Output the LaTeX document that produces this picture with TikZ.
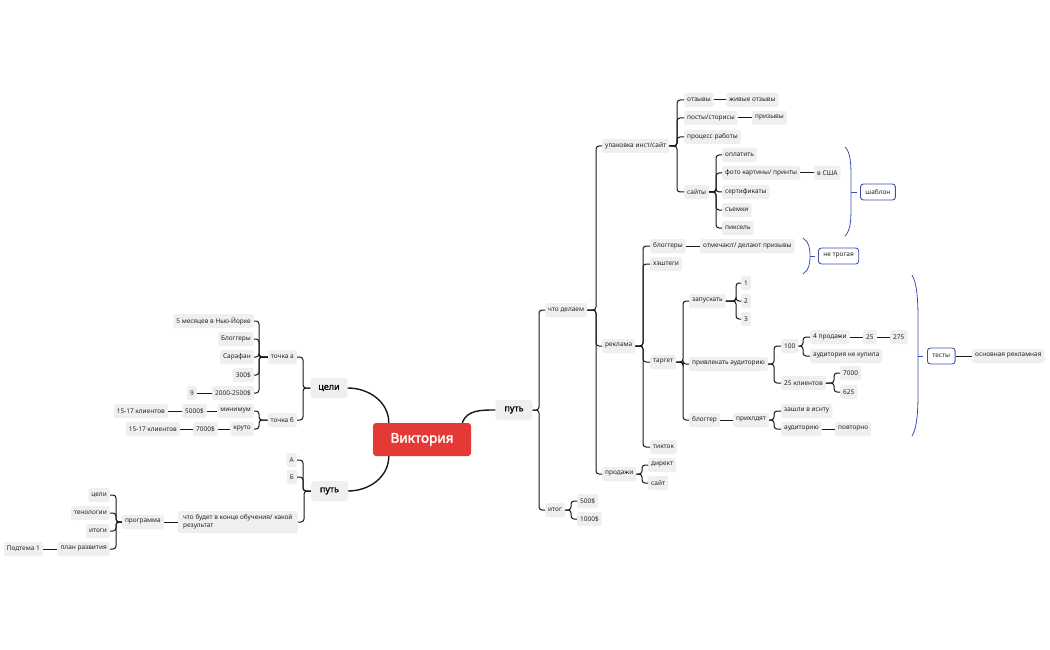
\documentclass[tikz,border=0pt]{standalone}
\usepackage{fontspec}
\setmainfont{Noto Sans}
\newfontfamily\heavyfont{Noto Sans}[FakeBold=2.2]
\newfontfamily\midfont{Noto Sans}[FakeBold=1.2]
\definecolor{mapgray}{RGB}{239,239,239}
\definecolor{maptext}{RGB}{35,35,35}
\definecolor{mapred}{RGB}{229,57,53}
\definecolor{mapblue}{RGB}{60,78,178}
\tikzset{
  topic/.style={fill=mapgray,text=maptext,rounded corners=2pt,font=\fontsize{6.5}{7.5}\selectfont,
    inner xsep=3pt,inner ysep=0pt,minimum height=14pt},
  rt/.style={topic,anchor=west},
  lt/.style={topic,anchor=east},
  branch/.style={fill=mapgray,text=black,rounded corners=3pt,font=\midfont\fontsize{9}{10}\selectfont,
    minimum height=20pt,minimum width=37pt},
  link/.style={draw=black!90,line width=1pt,rounded corners=3pt},
  trunk/.style={draw=black!90,line width=1.4pt},
  brace/.style={draw=mapblue,line width=0.8pt},
  note/.style={draw=mapblue,line width=0.9pt,rounded corners=3pt,fill=white,text=maptext,
    font=\fontsize{6.5}{7.5}\selectfont,inner xsep=5pt,minimum height=16pt,anchor=west}
}
\begin{document}
\begin{tikzpicture}[x=1pt,y=-1pt]
\useasboundingbox (0,0) rectangle (1050,650);
% center
\node[fill=mapred,text=white,rounded corners=3pt,font=\heavyfont\fontsize{13.5}{15}\selectfont,
  minimum width=98pt,minimum height=33pt] (vik) at (422,439.5) {Виктория};
\node[branch] (cel) at (329,388) {цели};
\node[branch] (putL) at (329.5,491) {путь};
\node[branch] (putR) at (514,410) {путь};
\draw[trunk] (cel.east) to[out=0,in=90] ([xshift=16pt]vik.north west);
\draw[trunk] (putL.east) to[out=0,in=-90] ([xshift=16pt]vik.south west);
\draw[trunk] (putR.west) to[out=180,in=70] ([xshift=-9pt]vik.north east);

% left: цели
\node[lt] (tA) at (297,357) {точка а};
\node[lt] (tB) at (297,420) {точка б};
\node[lt] (a1) at (254,321) {5 месяцев в Нью-Йорке};
\node[lt] (a2) at (254,339) {Блоггеры};
\node[lt] (a3) at (254,357) {Сарафан};
\node[lt] (a4) at (254,375) {300\$};
\node[lt] (a5) at (254,393) {2000-2500\$};
\node[lt] (a51) at (197,393) {9};
\node[lt] (b1) at (254,411) {минимум};
\node[lt] (b11) at (207,411) {5000\$};
\node[lt] (b111) at (168,411) {15-17 клиентов};
\node[lt] (b2) at (254,429) {круто};
\node[lt] (b21) at (218,429) {7000\$};
\node[lt] (b211) at (180,429) {15-17 клиентов};
\foreach \c in {tA,tB} \draw[link] (cel.west) -| ([xshift=6pt]\c.east) -- (\c.east);
\foreach \c in {a1,a2,a3,a4,a5} \draw[link] (tA.west) -| ([xshift=5pt]\c.east) -- (\c.east);
\foreach \c in {b1,b2} \draw[link] (tB.west) -| ([xshift=5pt]\c.east) -- (\c.east);
\draw[link] (a5.west) -- (a51.east);
\draw[link] (b1.west) -- (b11.east);
\draw[link] (b11.west) -- (b111.east);
\draw[link] (b2.west) -- (b21.east);
\draw[link] (b21.west) -- (b211.east);

% left: путь
\node[lt] (pA) at (297,460) {А};
\node[lt] (pB) at (297,477) {Б};
\node[lt,align=left,minimum height=22pt,minimum width=120pt] (pC) at (298,522) {что будет в конце обучения/ какой\\результат};
\node[lt] (prog) at (164,522) {программа};
\node[lt] (g1) at (110,495) {цели};
\node[lt] (g2) at (110,513) {тенологии};
\node[lt] (g3) at (110,531) {итоги};
\node[lt] (g4) at (110,549) {план развития};
\node[lt] (g41) at (43,549) {Подтема 1};
\foreach \c in {pA,pB,pC} \draw[link] (putL.west) -| ([xshift=6pt]\c.east) -- (\c.east);
\draw[link] (pC.west) -- (prog.east);
\foreach \c in {g1,g2,g3,g4} \draw[link] (prog.west) -| ([xshift=6pt]\c.east) -- (\c.east);
\draw[link] (g4.west) -- (g41.east);

% right: путь
\node[rt] (r1) at (545,310) {что делаем};
\node[rt] (r2) at (545,510) {итог};
\foreach \c in {r1,r2} \draw[link] (putR.east) -| ([xshift=-6pt]\c.west) -- (\c.west);
\node[rt] (i1) at (577,501) {500\$};
\node[rt] (i2) at (577,519) {1000\$};
\foreach \c in {i1,i2} \draw[link] (r2.east) -| ([xshift=-6pt]\c.west) -- (\c.west);

\node[rt] (c1) at (602,146) {упаковка инст/сайт};
\node[rt] (c2) at (602,346) {реклама};
\node[rt] (c3) at (602,474) {продажи};
\foreach \c in {c1,c2,c3} \draw[link] (r1.east) -| ([xshift=-6pt]\c.west) -- (\c.west);

% упаковка
\node[rt] (u1) at (684,100) {отзывы};
\node[rt] (u11) at (726,100) {живые отзывы};
\node[rt] (u2) at (684,118) {посты/сторисы};
\node[rt] (u21) at (752,118) {призывы};
\node[rt] (u3) at (684,137) {процесс работы};
\node[rt] (u4) at (684,192) {сайты};
\foreach \c in {u1,u2,u3,u4} \draw[link] (c1.east) -| ([xshift=-7pt]\c.west) -- (\c.west);
\draw[link] (u1.east) -- (u11.west);
\draw[link] (u2.east) -- (u21.west);
\node[rt] (s1) at (722,155) {оплатить};
\node[rt] (s2) at (722,173) {фото картины/ принты};
\node[rt] (s21) at (814,173) {в США};
\node[rt] (s3) at (722,192) {сертификаты};
\node[rt] (s4) at (722,210) {съемки};
\node[rt] (s5) at (722,228) {пиксель};
\foreach \c in {s1,s2,s3,s4,s5} \draw[link] (u4.east) -| ([xshift=-6pt]\c.west) -- (\c.west);
\draw[link] (s2.east) -- (s21.west);
\node[note] (nS) at (860,192) {шаблон};
\draw[brace] (845,147) .. controls (851,153) and (851,165) .. (851,180) -- (851,204)
  .. controls (851,219) and (851,230) .. (845,236);
\draw[brace] (851,192) -- ([xshift=-3pt]nS.west);

% реклама
\node[rt] (k1) at (650,246) {блоггеры};
\node[rt] (k11) at (700,246) {отмечают/ делают призывы};
\node[rt] (k2) at (650,264) {хэштеги};
\node[rt] (k3) at (650,362) {таргет};
\node[rt] (k4) at (650,447) {тикток};
\foreach \c in {k1,k2,k3,k4} \draw[link] (c2.east) -| ([xshift=-7pt]\c.west) -- (\c.west);
\draw[link] (k1.east) -- (k11.west);
\node[note] (nT) at (818,256) {не трогая};
\draw[brace] (803,238) .. controls (809,242) and (810,248) .. (810,256)
  .. controls (810,264) and (809,270) .. (803,274);
\draw[brace] (810,256) -- ([xshift=-3pt]nT.west);

% таргет
\node[rt] (t1) at (689,301) {запускать};
\node[rt] (t2) at (689,364) {привлекать аудиторию};
\node[rt] (t3) at (689,420) {блоггер};
\foreach \c in {t1,t2,t3} \draw[link] (k3.east) -| ([xshift=-6pt]\c.west) -- (\c.west);
\node[rt] (n1) at (741,283) {1};
\node[rt] (n2) at (741,301) {2};
\node[rt] (n3) at (741,319) {3};
\foreach \c in {n1,n2,n3} \draw[link] (t1.east) -| ([xshift=-5pt]\c.west) -- (\c.west);
\node[rt] (h1) at (781,346) {100};
\node[rt] (h2) at (781,383) {25 клиентов};
\foreach \c in {h1,h2} \draw[link] (t2.east) -| ([xshift=-7pt]\c.west) -- (\c.west);
\node[rt] (h11) at (810,337) {4 продажи};
\node[rt] (h111) at (863,337) {25};
\node[rt] (h1111) at (890,337) {275};
\node[rt] (h12) at (810,356) {аудитория не купила};
\foreach \c in {h11,h12} \draw[link] (h1.east) -| ([xshift=-7pt]\c.west) -- (\c.west);
\draw[link] (h11.east) -- (h111.west);
\draw[link] (h111.east) -- (h1111.west);
\node[rt] (h21) at (840,373) {7000};
\node[rt] (h22) at (840,392) {625};
\foreach \c in {h21,h22} \draw[link] (h2.east) -| ([xshift=-6pt]\c.west) -- (\c.west);
\node[rt] (t31) at (733,420) {прихлдят};
\draw[link] (t3.east) -- (t31.west);
\node[rt] (z1) at (781,411) {зашли в иснту};
\node[rt] (z2) at (781,429) {аудиторию};
\node[rt] (z21) at (835,429) {повторно};
\foreach \c in {z1,z2} \draw[link] (t31.east) -| ([xshift=-7pt]\c.west) -- (\c.west);
\draw[link] (z2.east) -- (z21.west);
\node[note] (nX) at (927,356) {тесты};
\node[rt] (nX1) at (972,356) {основная рекламная};
\draw[brace] (912,275) .. controls (917,283) and (918,300) .. (918,320) -- (918,392)
  .. controls (918,412) and (917,428) .. (912,436);
\draw[brace] (918,356) -- ([xshift=-4pt]nX.west);
\draw[link] (nX.east) -- (nX1.west);

% продажи
\node[rt] (p1) at (648,465) {директ};
\node[rt] (p2) at (648,483) {сайт};
\foreach \c in {p1,p2} \draw[link] (c3.east) -| ([xshift=-6pt]\c.west) -- (\c.west);
\end{tikzpicture}
\end{document}
